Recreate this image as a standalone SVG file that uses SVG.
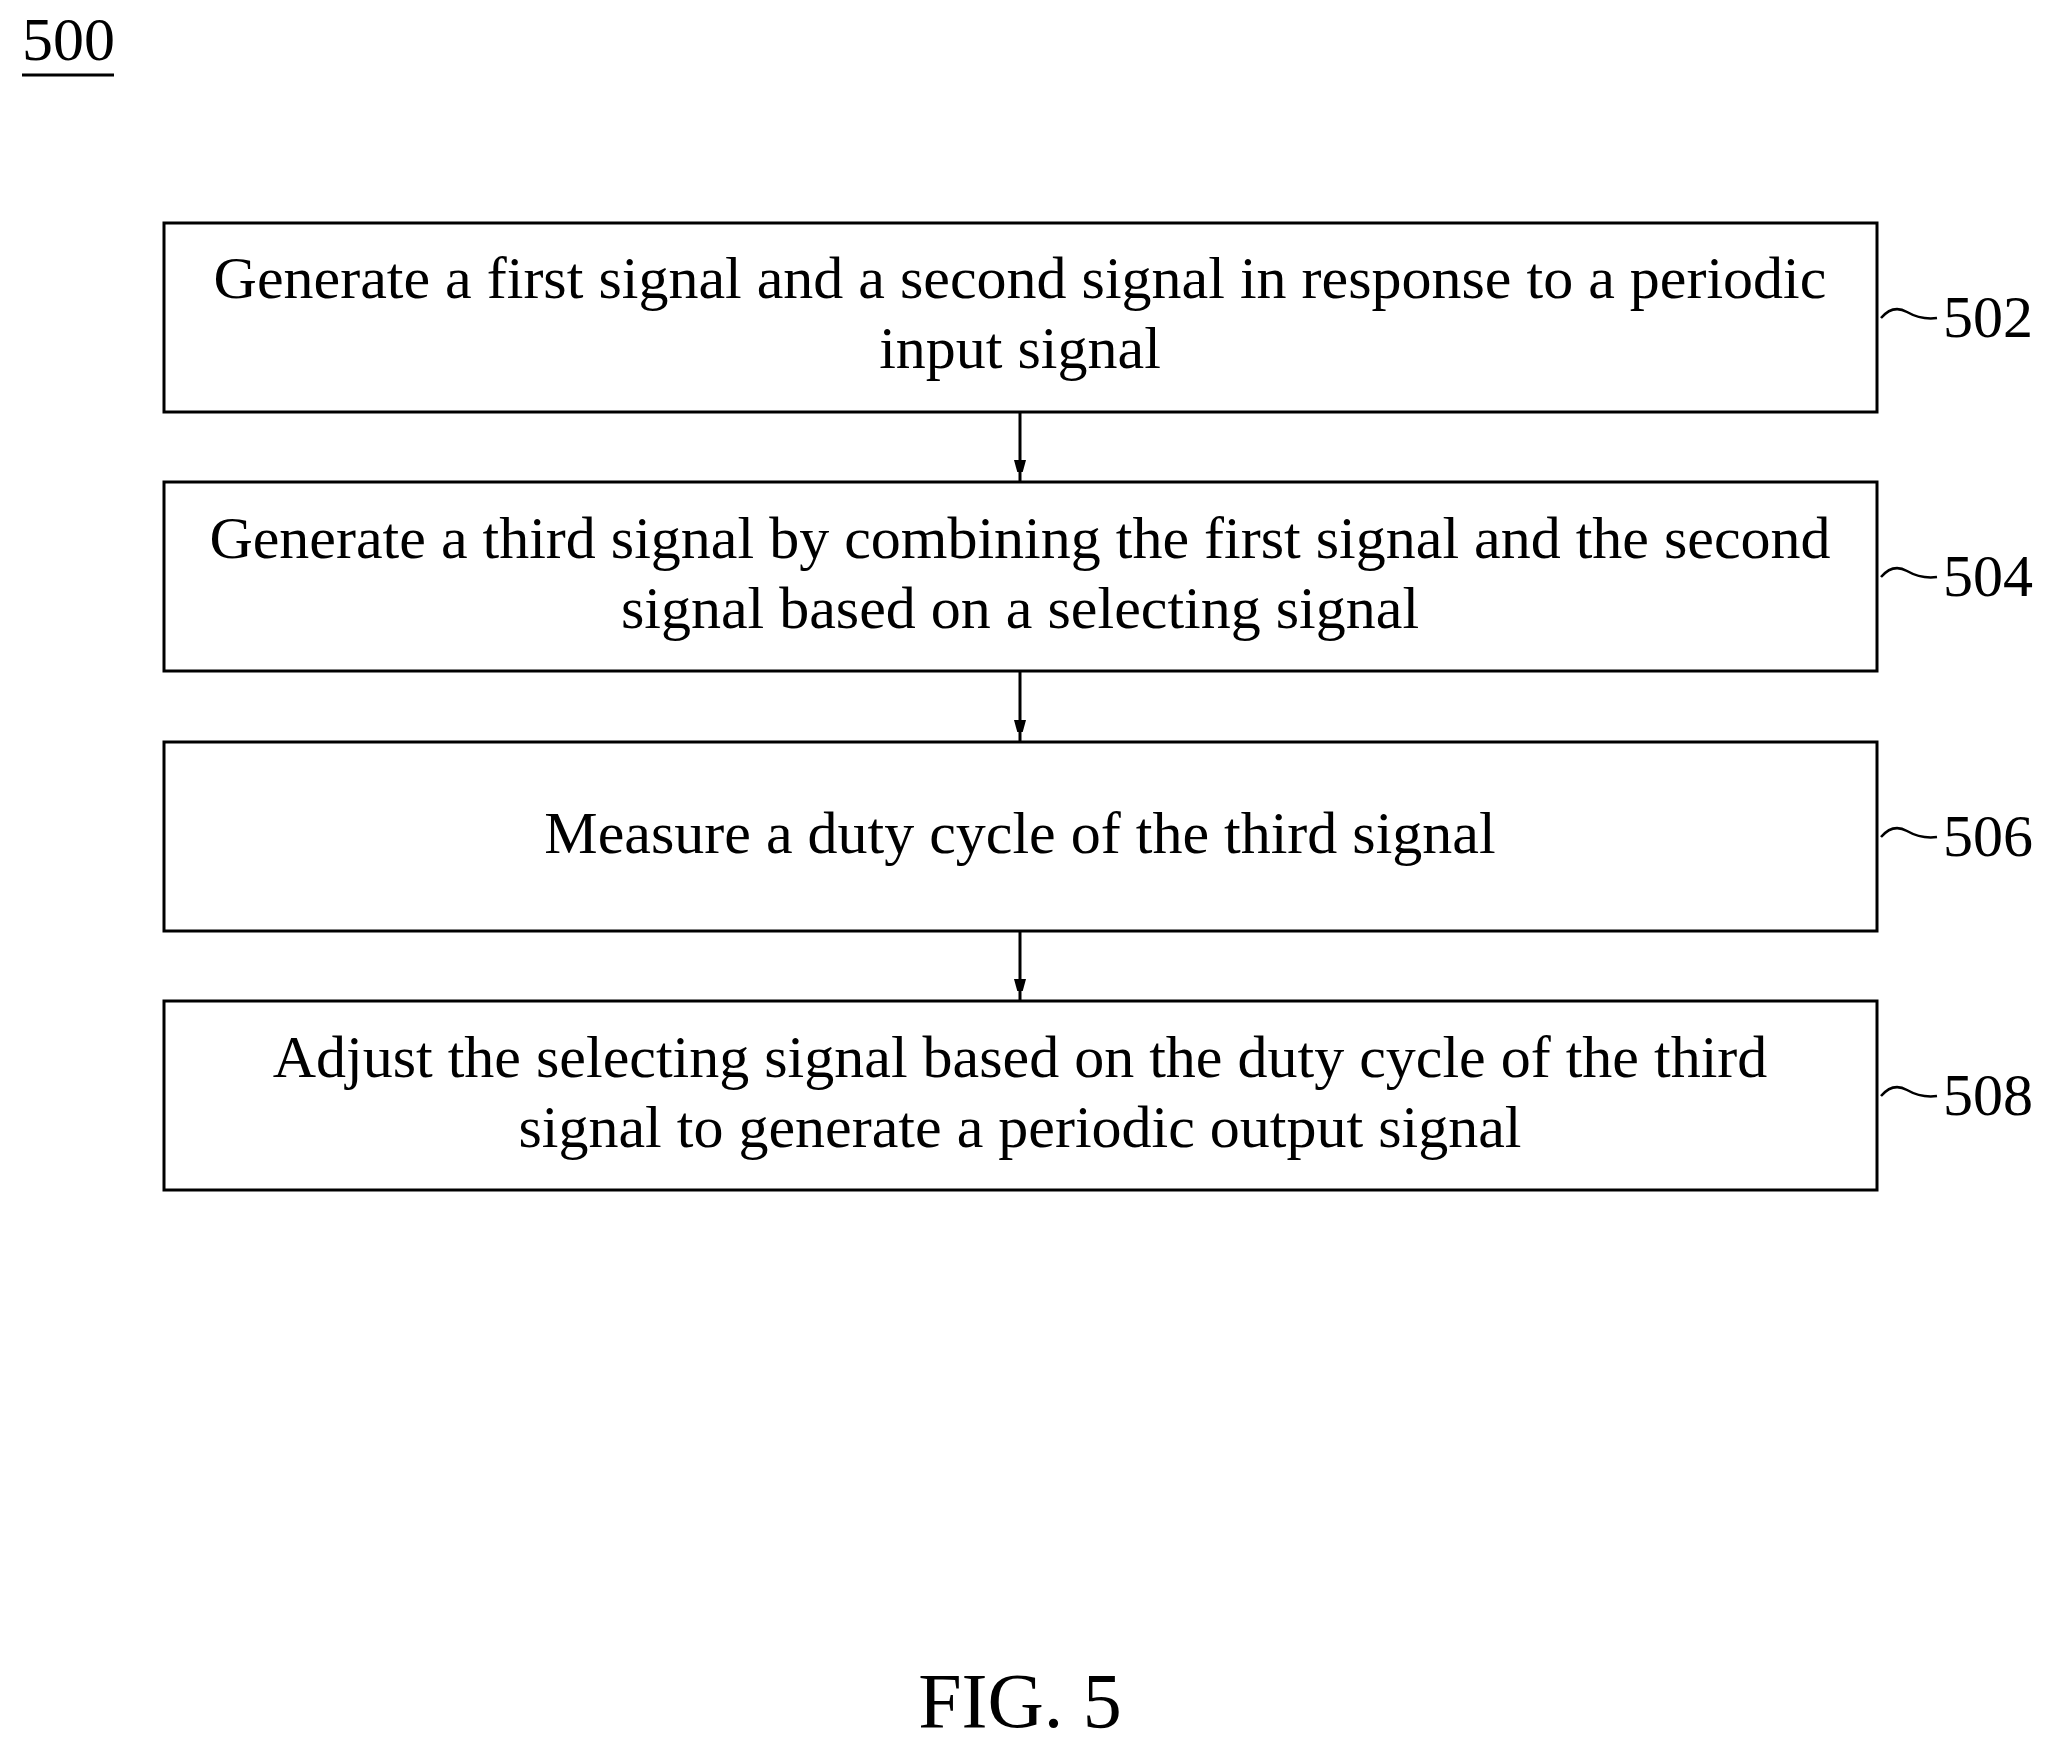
<svg xmlns="http://www.w3.org/2000/svg" width="2055" height="1750" viewBox="0 0 2055 1750">
<style>
text{font-family:"Liberation Serif","Times New Roman",serif;fill:#000}
.t{font-size:60px;text-anchor:middle}
.l{font-size:60px}
.b{fill:#fff;stroke:#000;stroke-width:3}
.c{stroke:#000;stroke-width:3;fill:none}
.w{stroke:#000;stroke-width:2.5;fill:none}
</style>
<defs>
<marker id="h" markerWidth="12" markerHeight="22" refX="22" refY="6" orient="auto" markerUnits="userSpaceOnUse"><path d="M0,0 L22,6 L0,12z" fill="#000"/></marker></defs>
<rect width="2055" height="1750" fill="#fff"/>
<text x="22" y="60" style="font-size:62px">500</text>
<line x1="22" y1="75" x2="114" y2="75" stroke="#000" stroke-width="3"/>
<g id="connectors">
<line class="c" x1="1020" y1="412" x2="1020" y2="482" marker-end="url(#h)"/>
<line class="c" x1="1020" y1="671" x2="1020" y2="742" marker-end="url(#h)"/>
<line class="c" x1="1020" y1="931" x2="1020" y2="1001" marker-end="url(#h)"/>
</g>
<g id="n502"><rect class="b" x="164" y="223" width="1713" height="189"/>
<text class="t" x="1020" y="298">Generate a first signal and a second signal in response to a periodic</text>
<text class="t" x="1020" y="368">input signal</text>
<path class="w" d="M1881,318 q12,-14 26,-6 t30,6"/><text class="l" x="1943" y="337">502</text></g>
<g id="n504"><rect class="b" x="164" y="482" width="1713" height="189"/>
<text class="t" x="1020" y="558">Generate a third signal by combining the first signal and the second</text>
<text class="t" x="1020" y="628">signal based on a selecting signal</text>
<path class="w" d="M1881,577 q12,-14 26,-6 t30,6"/><text class="l" x="1943" y="596">504</text></g>
<g id="n506"><rect class="b" x="164" y="742" width="1713" height="189"/>
<text class="t" x="1020" y="853">Measure a duty cycle of the third signal</text>
<path class="w" d="M1881,837 q12,-14 26,-6 t30,6"/><text class="l" x="1943" y="856">506</text></g>
<g id="n508"><rect class="b" x="164" y="1001" width="1713" height="189"/>
<text class="t" x="1020" y="1077">Adjust the selecting signal based on the duty cycle of the third</text>
<text class="t" x="1020" y="1147">signal to generate a periodic output signal</text>
<path class="w" d="M1881,1096 q12,-14 26,-6 t30,6"/><text class="l" x="1943" y="1115">508</text></g>
<text x="1020" y="1727" style="font-size:78px;text-anchor:middle">FIG. 5</text>
</svg>
